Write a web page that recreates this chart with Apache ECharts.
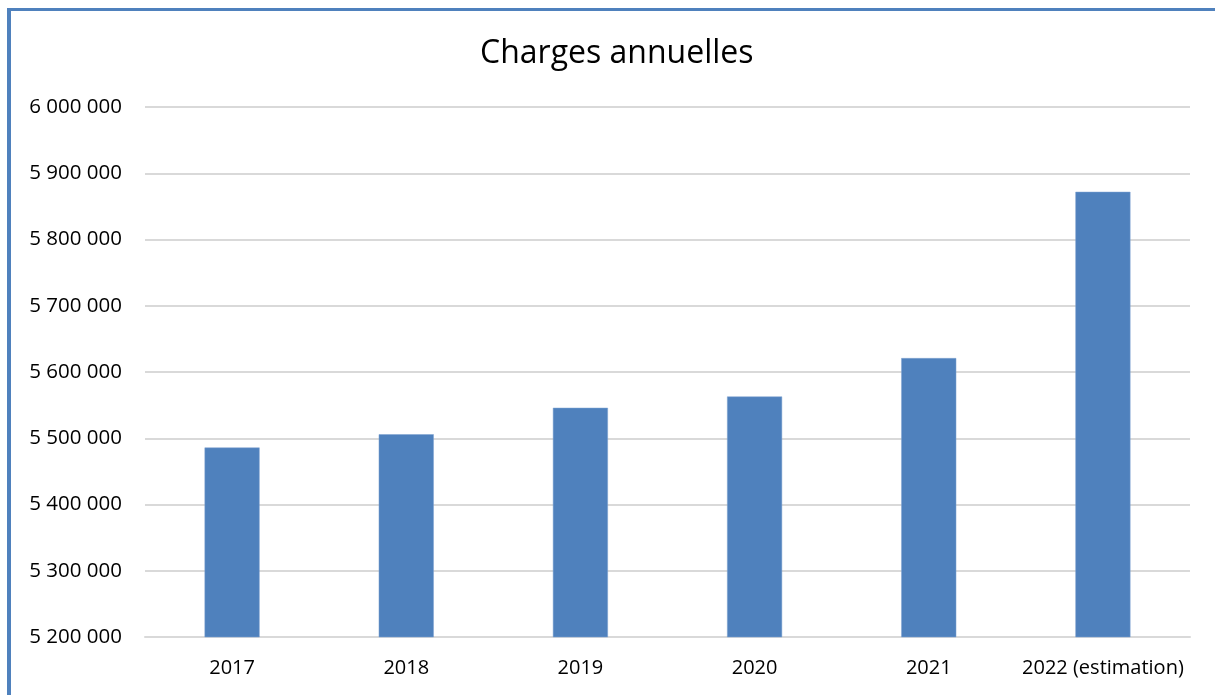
<!DOCTYPE html>
<html>
<head>
<meta charset="utf-8">
<script src="https://cdn.jsdelivr.net/npm/echarts@6/dist/echarts.min.js"></script>
<style>
html,body{margin:0;padding:0;background:#fff;}
#chart{width:1215px;height:695px;}
</style>
</head>
<body>
<div id="chart"></div>
<script>
const categories = ["2017", "2018", "2019", "2020", "2021", "2022 (estimation)"];
const charges = [5486000, 5506000, 5546000, 5563000, 5621000, 5872000];
const titleText = "Charges annuelles";

function fmt(v) {
  return String(Math.round(v)).replace(/\B(?=(\d{3})+(?!\d))/g, " ");
}

const chart = echarts.init(document.getElementById("chart"));
chart.setOption({
  animation: false,
  backgroundColor: "#fff",
  title: {
    text: titleText,
    left: 475,
    top: 33,
    textStyle: { fontFamily: "Open Sans", fontSize: 32, fontWeight: "normal", color: "#000" }
  },
  grid: { left: 145, right: 25, top: 107, bottom: 58, containLabel: false },
  xAxis: {
    type: "category",
    data: categories,
    axisLine: { show: true, lineStyle: { color: "#d9d9d9", width: 2 } },
    axisTick: { show: false },
    axisLabel: { color: "#000", fontFamily: "Open Sans", fontSize: 20, margin: 21, interval: 0 }
  },
  yAxis: {
    type: "value",
    min: 5200000,
    max: 6000000,
    interval: 100000,
    axisLine: { show: false },
    axisTick: { show: false },
    splitLine: { lineStyle: { color: "#d9d9d9", width: 2 } },
    axisLabel: { color: "#000", fontFamily: "Open Sans", fontSize: 20.5, margin: 23, formatter: fmt }
  },
  series: [{
    type: "bar",
    data: charges,
    barWidth: "31.6%",
    itemStyle: { color: "#4f81bd", borderColor: "#7fa3d1", borderWidth: 0.5 }
  }],
  graphic: [
    { type: "rect", shape: { x: 7, y: 8, width: 4, height: 700 }, style: { fill: "#4f81bd" }, z: 100 },
    { type: "rect", shape: { x: 7, y: 8, width: 1215, height: 3 }, style: { fill: "#4f81bd" }, z: 100 }
  ]
});
</script>
</body>
</html>
